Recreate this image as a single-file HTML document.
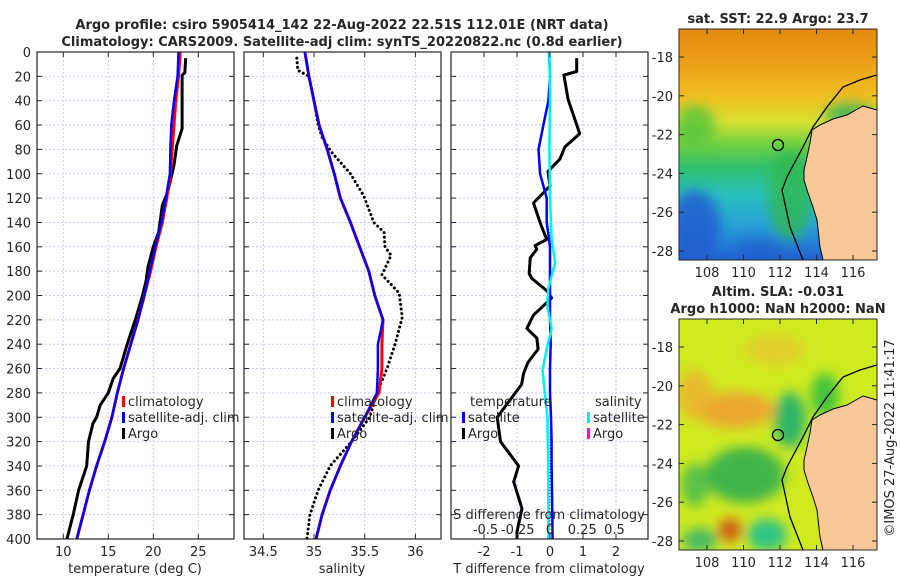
<!DOCTYPE html>
<html><head><meta charset="utf-8"><style>
html,body{margin:0;padding:0;background:#fff;width:900px;height:580px;overflow:hidden}
svg text{font-family:"DejaVu Sans","Liberation Sans",sans-serif;fill:#262626}
</style></head><body>
<svg id="fig" width="900" height="580" viewBox="0 0 900 580" xmlns="http://www.w3.org/2000/svg">
<defs>
<linearGradient id="sstg" x1="0" y1="0" x2="0" y2="1">
<stop offset="0" stop-color="#e48a10"/><stop offset="0.15" stop-color="#eca018"/><stop offset="0.3" stop-color="#f0c020"/>
<stop offset="0.4" stop-color="#d8e030"/><stop offset="0.5" stop-color="#70d040"/><stop offset="0.6" stop-color="#30c070"/>
<stop offset="0.72" stop-color="#28c0c0"/><stop offset="0.85" stop-color="#28a0d8"/><stop offset="1" stop-color="#2060d0"/>
</linearGradient>
<filter id="blur" x="-20%" y="-20%" width="140%" height="140%"><feGaussianBlur stdDeviation="6"/></filter>
<clipPath id="c1"><rect x="679" y="29" width="198" height="231"/></clipPath>
<clipPath id="c2"><rect x="679" y="319" width="198" height="231"/></clipPath>
</defs>
<g id="layer"></g>
</svg>
<script>
// ---- data ----
const depthGrid = [0,20,40,60,80,100,120,140,160,180,200,220,240,260,280,300,320,340,360,380,400];
const tempClim = [23.0,22.8,22.5,22.3,22.1,21.9,21.5,21.0,20.3,19.7,19.0,18.3,17.5,16.7,16.0,15.4,14.6,13.7,12.9,12.2,11.5];
const tempSat  = [22.8,22.7,22.3,22.0,21.9,21.85,21.4,20.9,20.2,19.6,19.0,18.3,17.5,16.7,16.0,15.4,14.6,13.7,12.9,12.2,11.5];
const argoDepthT = [5,17,19,40,63,77,93,115,126,148,160,177,188,200,220,240,260,268,280,290,300,305,320,340,360,380,400];
const tempArgo = [23.6,23.5,23.2,23.2,23.2,22.6,22.3,21.6,21.0,20.6,20.0,19.4,19.2,18.8,18.0,17.1,16.3,15.55,15.0,14.1,13.7,13.3,12.8,12.6,11.7,11.1,10.4];
const salClim = [34.91,34.95,35.0,35.05,35.13,35.2,35.26,35.36,35.45,35.54,35.6,35.68,35.67,35.67,35.64,35.5,35.37,35.26,35.16,35.08,35.02];
const salSat  = [34.91,34.95,35.0,35.05,35.13,35.2,35.26,35.36,35.45,35.54,35.6,35.68,35.63,35.63,35.62,35.5,35.37,35.26,35.16,35.08,35.02];
const argoDepthS = [5,15,20,40,60,70,82,100,118,140,148,160,167,183,198,218,240,260,280,300,320,340,360,380,400];
const salArgo = [34.83,34.84,34.95,35.0,35.04,35.08,35.17,35.36,35.49,35.59,35.69,35.7,35.76,35.67,35.84,35.87,35.8,35.72,35.62,35.55,35.37,35.16,35.04,34.96,34.93];
const diffDepthA = [5,16,19,39,67,78,88,98,110,124,140,154,159,162,169,182,186,196,202,211,216,227,235,244,255,264,273,300,320,340,353,375,394,400];
const tDiffArgo = [0.81,0.81,0.42,0.55,0.9,0.45,0.3,-0.06,0.0,-0.5,-0.3,-0.1,-0.45,-0.4,-0.6,-0.63,-0.55,-0.1,0.05,-0.3,-0.5,-0.7,-0.4,-0.36,-0.67,-0.8,-0.86,-1.6,-1.5,-0.95,-1.1,-0.85,-1.0,-1.0];
const tDiffSat = [-0.03,0.0,-0.05,-0.2,-0.35,-0.3,-0.1,-0.1,0.0,0.0,0.0,0.0,0.02,0.0,0.0,0.03,0.05,0.05,0.06,0.07,0.08];
const sDiffDepth = [0,40,80,120,154,173,195,209,227,244,261,273,300,340,400];
const sDiffSat = [-0.005,0.0,-0.005,0.0,0.013,0.04,-0.015,-0.02,0.013,-0.026,-0.057,-0.047,-0.02,-0.015,-0.012];
const depthTicks = [0,20,40,60,80,100,120,140,160,180,200,220,240,260,280,300,320,340,360,380,400];
const tempTicks = [10,15,20,25];
const salTicks = [34.5,35,35.5,36];
const tDiffTicks = [-2,-1,0,1,2];
const sDiffTicks = [-0.5,-0.25,0,0.25,0.5];
const lonTicks = [108,110,112,114,116];
const latTicks = [-18,-20,-22,-24,-26,-28];

const NS="http://www.w3.org/2000/svg";
const L=document.getElementById('layer');
function mk(tag,attrs,parent){const e=document.createElementNS(NS,tag);for(const k in attrs)e.setAttribute(k,attrs[k]);(parent||L).appendChild(e);return e;}
function tx(str,x,y,attrs,parent){const e=mk('text',Object.assign({x:x,y:y,'font-size':13},attrs||{}),parent);e.textContent=str;return e;}

const yD = d => 52 + d*1.2175;
const xT = v => 63.3 + (v-10)*9.0;
const xS = v => 314 + (v-35)*101.4;
const xTD = v => 550 + v*33;
const xSD = v => 550 + v*129;

function panel(name,x0,x1,xticks,xf){
  const g=mk('g',{});
  
  
  depthTicks.forEach(d=>{ if(d>0&&d<400) mk('line',{x1:x0,x2:x1,y1:yD(d),y2:yD(d),stroke:'#c5cdea','stroke-width':1,'stroke-dasharray':'2,2'},g);});
  xticks.forEach(v=>{ mk('line',{x1:xf(v),x2:xf(v),y1:52,y2:539,stroke:'#c5cdea','stroke-width':1,'stroke-dasharray':'2,2'},g);});
  return g;
}
function frame(name,x0,x1,xticks,xf,labels){
  const g=mk('g',{});
  
  
  mk('rect',{x:x0,y:52,width:x1-x0,height:487,fill:'none',stroke:'#262626','stroke-width':1.2},g);
  depthTicks.forEach(d=>{ mk('line',{x1:x0,x2:x0+5,y1:yD(d),y2:yD(d),stroke:'#262626'},g); mk('line',{x1:x1-5,x2:x1,y1:yD(d),y2:yD(d),stroke:'#262626'},g);});
  xticks.forEach((v,i)=>{ mk('line',{x1:xf(v),x2:xf(v),y1:539,y2:534,stroke:'#262626'},g); mk('line',{x1:xf(v),x2:xf(v),y1:52,y2:57,stroke:'#262626'},g);
    if(labels) tx(labels[i],xf(v),556,{'text-anchor':'middle'},g);});
}
function line(name,xs,ds,xf,color,w,dash){
  const p=xs.map((v,i)=>(i?'L':'M')+xf(v).toFixed(1)+','+yD(ds[i]).toFixed(1)).join(' ');
  const e=mk('path',{d:p,fill:'none',stroke:color,'stroke-width':w,'stroke-linejoin':'round'});
  if(dash){e.setAttribute('stroke-dasharray',dash);e.setAttribute('stroke-linecap','round');}
  
  
  return e;
}

panel('temperature-grid',37,234,tempTicks,xT);
line('argo-temperature-line',tempArgo,argoDepthT,xT,'#000',3);
line('climatology-temperature-line',tempClim,depthGrid,xT,'#f00',3);
line('satellite-temperature-line',tempSat,depthGrid,xT,'#00f',2.5);
frame('temperature-axes',37,234,tempTicks,xT,['10','15','20','25']);
depthTicks.forEach(d=>{const t=tx(String(d),31,yD(d)+5,{'text-anchor':'end'});  });
tx('temperature (deg C)',135,573,{'text-anchor':'middle'});

panel('salinity-grid',244,441,salTicks,xS);
line('argo-salinity-line',salArgo,argoDepthS,xS,'#000',3,'0.1,4.5');
line('climatology-salinity-line',salClim,depthGrid,xS,'#f00',3);
line('satellite-salinity-line',salSat,depthGrid,xS,'#00f',2.5);
frame('salinity-axes',244,441,salTicks,xS,['34.5','35','35.5','36']);
tx('salinity',342,573,{'text-anchor':'middle'});

panel('difference-grid',451,648,tDiffTicks,xTD);
mk('line',{x1:550,x2:550,y1:52,y2:539,stroke:'#555','stroke-dasharray':'1,2'});
line('argo-t-difference-line',tDiffArgo,diffDepthA,xTD,'#000',3);
line('satellite-t-difference-line',tDiffSat,depthGrid,xTD,'#00f',2.5);
line('satellite-s-difference-line',sDiffSat,sDiffDepth,xSD,'#00f0f0',2.5);
frame('difference-axes',451,648,tDiffTicks,xTD,['-2','-1','0','1','2']);
tx('T difference from climatology',549,573,{'text-anchor':'middle'});
tx('S difference from climatology',549,519,{'text-anchor':'middle'});
const sdl=['-0.5','-0.25','0','0.25','0.5'];
sDiffTicks.forEach((v,i)=>tx(sdl[i],xSD(v),534,{'text-anchor':'middle'}));

function legItem(name,x,y,color,label){
  const g=mk('g',{});
  
  
  mk('rect',{x:x,y:y-10,width:3,height:11,fill:color},g);
  tx(label,x+6,y,{},g);
}
legItem('legend-climatology',122,406,'#f00','climatology');
legItem('legend-satellite-adj-clim',122,422,'#00f','satellite-adj. clim');
legItem('legend-argo',122,438,'#000','Argo');
legItem('legend-climatology-sal',331,406,'#f00','climatology');
legItem('legend-satellite-adj-clim-sal',331,422,'#00f','satellite-adj. clim');
legItem('legend-argo-sal',331,438,'#000','Argo');
tx('temperature',470,406);
tx('salinity',595,406);
legItem('legend-t-satellite',462,422,'#00f','satellite');
legItem('legend-t-argo',462,438,'#000','Argo');
legItem('legend-s-satellite',587,422,'#00f0f0','satellite');
legItem('legend-s-argo',587,438,'#f0f','Argo');

tx('Argo profile: csiro 5905414_142 22-Aug-2022 22.51S 112.01E (NRT data)',342,29,{'text-anchor':'middle','font-weight':'bold'});
tx('Climatology: CARS2009. Satellite-adj clim: synTS_20220822.nc (0.8d earlier)',342,46,{'text-anchor':'middle','font-weight':'bold'});

const lonX = v => 707 + (v-108)*18.25;
function latY(top){return v => top + 28 + (-18 - v)*19.4;}
const landPts=[[877,110],[863,106],[847,115],[833,119],[820,125],[812,130],[810,143],[807,157],[804,170],[804,180],[808,193],[813,207],[817,220],[820,247],[823,260],[877,260]];
const shelfPts=[[877,75],[860,80],[843,87],[827,107],[813,127],[803,147],[787,177],[782,190],[790,227],[803,260]];
function map(name,top,clip,bgFn,title1,title2){
  const g=mk('g',{'clip-path':'url(#'+clip+')'});
  
  
  bgFn(g);
  const off=top-29;
  mk('polygon',{points:landPts.map(p=>p[0]+','+(p[1]+off)).join(' '),fill:'#f8c898',stroke:'#000','stroke-width':1},g);
  mk('polyline',{points:shelfPts.map(p=>p[0]+','+(p[1]+off)).join(' '),fill:'none',stroke:'#000','stroke-width':1.3},g);
  mk('circle',{cx:778,cy:145+off,r:5.5,fill:'none',stroke:'#000','stroke-width':1.3},g);
  const ly=latY(top);
  const f=mk('g',{});
  mk('rect',{x:679,y:top,width:198,height:231,fill:'none',stroke:'#262626'},f);
  lonTicks.forEach(v=>{mk('line',{x1:lonX(v),x2:lonX(v),y1:top+231,y2:top+226,stroke:'#262626'},f);mk('line',{x1:lonX(v),x2:lonX(v),y1:top,y2:top+5,stroke:'#262626'},f);tx(String(v),lonX(v),top+248,{'text-anchor':'middle'},f);});
  latTicks.forEach(v=>{mk('line',{x1:679,x2:684,y1:ly(v),y2:ly(v),stroke:'#262626'},f);mk('line',{x1:872,x2:877,y1:ly(v),y2:ly(v),stroke:'#262626'},f);tx(String(v),673,ly(v)+5,{'text-anchor':'end'},f);});
  tx(title1,778,top-(title2?23:6),{'text-anchor':'middle','font-weight':'bold'});
  if(title2) tx(title2,778,top-6,{'text-anchor':'middle','font-weight':'bold'});
}
map('sst-map',29,'c1',g=>{
  mk('rect',{x:679,y:29,width:198,height:231,fill:'url(#sstg)'},g);
  const b=mk('g',{filter:'url(#blur)'},g);
  mk('ellipse',{cx:790,cy:195,rx:22,ry:45,fill:'#30b850',opacity:0.8},b);
  mk('ellipse',{cx:695,cy:225,rx:25,ry:35,fill:'#2058d0',opacity:0.8},b);
  mk('ellipse',{cx:760,cy:250,rx:25,ry:10,fill:'#2060d0',opacity:0.7},b);
  mk('ellipse',{cx:695,cy:125,rx:20,ry:20,fill:'#40c040',opacity:0.7},b);
  mk('ellipse',{cx:850,cy:115,rx:25,ry:12,fill:'#30b060',opacity:0.8},b);
},'sat. SST: 22.9  Argo: 23.7');
map('sla-map',319,'c2',g=>{
  mk('rect',{x:679,y:319,width:198,height:231,fill:'#d0ea20'},g);
  const b=mk('g',{filter:'url(#blur)'},g);
  mk('ellipse',{cx:735,cy:410,rx:40,ry:18,fill:'#eea030',opacity:0.9},b);
  mk('ellipse',{cx:695,cy:395,rx:18,ry:25,fill:'#eeb030',opacity:0.8},b);
  mk('ellipse',{cx:790,cy:420,rx:16,ry:28,fill:'#20b070',opacity:0.9},b);
  mk('ellipse',{cx:745,cy:475,rx:40,ry:28,fill:'#30b050',opacity:0.9},b);
  mk('ellipse',{cx:695,cy:485,rx:14,ry:22,fill:'#40b850',opacity:0.8},b);
  mk('ellipse',{cx:825,cy:395,rx:14,ry:22,fill:'#30c040',opacity:0.9},b);
  mk('ellipse',{cx:730,cy:530,rx:12,ry:12,fill:'#d05010',opacity:0.9},b);
  mk('ellipse',{cx:767,cy:535,rx:20,ry:16,fill:'#20c090',opacity:0.9},b);
  mk('ellipse',{cx:700,cy:540,rx:18,ry:12,fill:'#30b070',opacity:0.85},b);
  mk('ellipse',{cx:775,cy:350,rx:30,ry:15,fill:'#eebc30',opacity:0.6},b);
},'Altim. SLA: -0.031','Argo h1000: NaN h2000: NaN');
const cr=tx('©IMOS 27-Aug-2022 11:41:17',0,0,{'text-anchor':'middle',transform:'translate(894,438) rotate(-90)'});


</script>
</body></html>
